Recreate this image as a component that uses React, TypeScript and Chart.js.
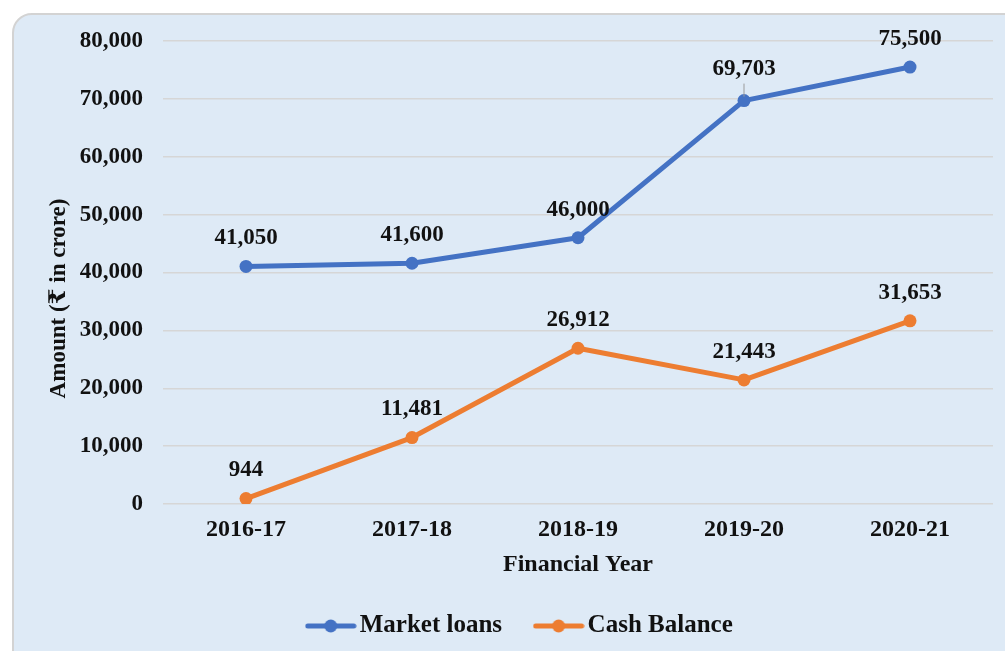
import { useEffect, useRef } from "react";
import { Chart, registerables } from "chart.js";

Chart.register(...registerables);

const years = ["2016-17", "2017-18", "2018-19", "2019-20", "2020-21"];
const marketLoans = [41050, 41600, 46000, 69703, 75500];
const cashBalance = [944, 11481, 26912, 21443, 31653];
const seriesNames = ["Market loans", "Cash Balance"];
const yTitle = "Amount (₹ in crore)";
const xTitle = "Financial Year";
const yMin = 0;
const yMax = 80000;
const yStep = 10000;

const SERIF = "'Liberation Serif', 'Times New Roman', 'DejaVu Serif', serif";
const BLUE = "#4472C4";
const ORANGE = "#ED7D31";
const TEXT = "#111111";
const LEADER = { dataset: 0, index: 3 };

function legendIcon(color: string) {
  const c = document.createElement("canvas");
  c.width = 52;
  c.height = 16;
  const ctx = c.getContext("2d")!;
  ctx.strokeStyle = color;
  ctx.lineWidth = 5;
  ctx.lineCap = "round";
  ctx.beginPath();
  ctx.moveTo(3, 8);
  ctx.lineTo(49, 8);
  ctx.stroke();
  ctx.fillStyle = color;
  ctx.beginPath();
  ctx.arc(26, 8, 6.5, 0, Math.PI * 2);
  ctx.fill();
  return c;
}

const valueLabels = {
  id: "valueLabels",
  afterDatasetsDraw(chart: any) {
    const ctx = chart.ctx;
    ctx.save();
    ctx.font = `bold 23px ${SERIF}`;
    ctx.fillStyle = TEXT;
    ctx.textAlign = "center";
    ctx.textBaseline = "middle";
    chart.data.datasets.forEach((ds: any, di: number) => {
      const meta = chart.getDatasetMeta(di);
      meta.data.forEach((pt: any, i: number) => {
        const v = ds.data[i] as number;
        const leader = di === LEADER.dataset && i === LEADER.index;
        const lift = leader ? 32 : 28;
        if (leader) {
          ctx.save();
          ctx.strokeStyle = "#9a9a9a";
          ctx.lineWidth = 1;
          ctx.beginPath();
          ctx.moveTo(pt.x, pt.y - 17);
          ctx.lineTo(pt.x, pt.y - 4);
          ctx.stroke();
          ctx.restore();
        }
        ctx.fillText(v.toLocaleString("en-US"), pt.x, pt.y - lift);
      });
    });
    ctx.restore();
  },
};

const yAxisTitle = {
  id: "yAxisTitle",
  afterDraw(chart: any) {
    const ctx = chart.ctx;
    const area = chart.chartArea;
    ctx.save();
    ctx.font = `bold 23px ${SERIF}`;
    ctx.fillStyle = TEXT;
    ctx.textAlign = "center";
    ctx.textBaseline = "middle";
    ctx.translate(59, (area.top + area.bottom) / 2 + 26);
    ctx.rotate(-Math.PI / 2);
    ctx.fillText(yTitle, 0, 0);
    ctx.restore();
  },
};

export default function App() {
  const ref = useRef<HTMLCanvasElement>(null);

  useEffect(() => {
    const icons = [legendIcon(BLUE), legendIcon(ORANGE)];
    const chart = new Chart(ref.current!, {
      type: "line",
      data: {
        labels: years,
        datasets: [
          {
            label: seriesNames[0],
            data: marketLoans,
            borderColor: BLUE,
            backgroundColor: BLUE,
            pointBackgroundColor: BLUE,
            pointBorderWidth: 0,
            pointRadius: 6.5,
            borderWidth: 5,
            borderCapStyle: "round",
            borderJoinStyle: "round",
            tension: 0,
          },
          {
            label: seriesNames[1],
            data: cashBalance,
            borderColor: ORANGE,
            backgroundColor: ORANGE,
            pointBackgroundColor: ORANGE,
            pointBorderWidth: 0,
            pointRadius: 6.5,
            borderWidth: 5,
            borderCapStyle: "round",
            borderJoinStyle: "round",
            tension: 0,
          },
        ],
      },
      options: {
        responsive: false,
        animation: false,
        layout: { padding: { top: 41, left: 54, right: 12, bottom: 2.5 } },
        plugins: {
          tooltip: { enabled: false },
          legend: {
            position: "bottom",
            labels: {
              usePointStyle: true,
              pointStyleWidth: 33,
              padding: 40,
              color: TEXT,
              font: { family: SERIF, size: 25, weight: "bold" },
              generateLabels: (c: any) => {
                const items = Chart.defaults.plugins.legend.labels.generateLabels(c);
                return items.map((it: any) => ({ ...it, pointStyle: icons[it.datasetIndex] }));
              },
            },
          },
        },
        scales: {
          x: {
            offset: true,
            grid: { display: false, drawTicks: false },
            border: { display: false },
            ticks: {
              padding: 11.6,
              color: TEXT,
              font: { family: SERIF, size: 24, weight: "bold" },
            },
            title: {
              display: true,
              text: xTitle,
              color: TEXT,
              font: { family: SERIF, size: 24, weight: "bold" },
              padding: { top: 0, bottom: -5.9 },
            },
            afterFit: (s: any) => {
              s.height = 69.5;
            },
          },
          y: {
            min: yMin,
            max: yMax,
            grid: { color: "#d6d6d6", lineWidth: 1.5, drawTicks: false },
            border: { display: false },
            ticks: {
              stepSize: yStep,
              padding: 20,
              color: TEXT,
              font: { family: SERIF, size: 23, weight: "bold" },
              callback: (v: any) => Number(v).toLocaleString("en-US"),
            },
            title: { display: false },
            afterFit: (s: any) => {
              s.width = 109;
            },
          },
        },
      },
      plugins: [valueLabels, yAxisTitle],
    } as any);
    return () => chart.destroy();
  }, []);

  return (
    <div
      style={{
        position: "fixed",
        left: 0,
        top: 0,
        width: 1005,
        height: 651,
        background: "#ffffff",
        overflow: "hidden",
      }}
    >
      <div
        style={{
          position: "absolute",
          left: 12,
          top: 13,
          width: 1012,
          height: 662,
          background: "#DEEAF6",
          border: "2px solid #d3d3d3",
          borderRadius: 20,
          boxSizing: "border-box",
        }}
      />
      <canvas
        ref={ref}
        width={1005}
        height={651}
        style={{ position: "absolute", left: 0, top: 0, width: 1005, height: 651 }}
      />
    </div>
  );
}
